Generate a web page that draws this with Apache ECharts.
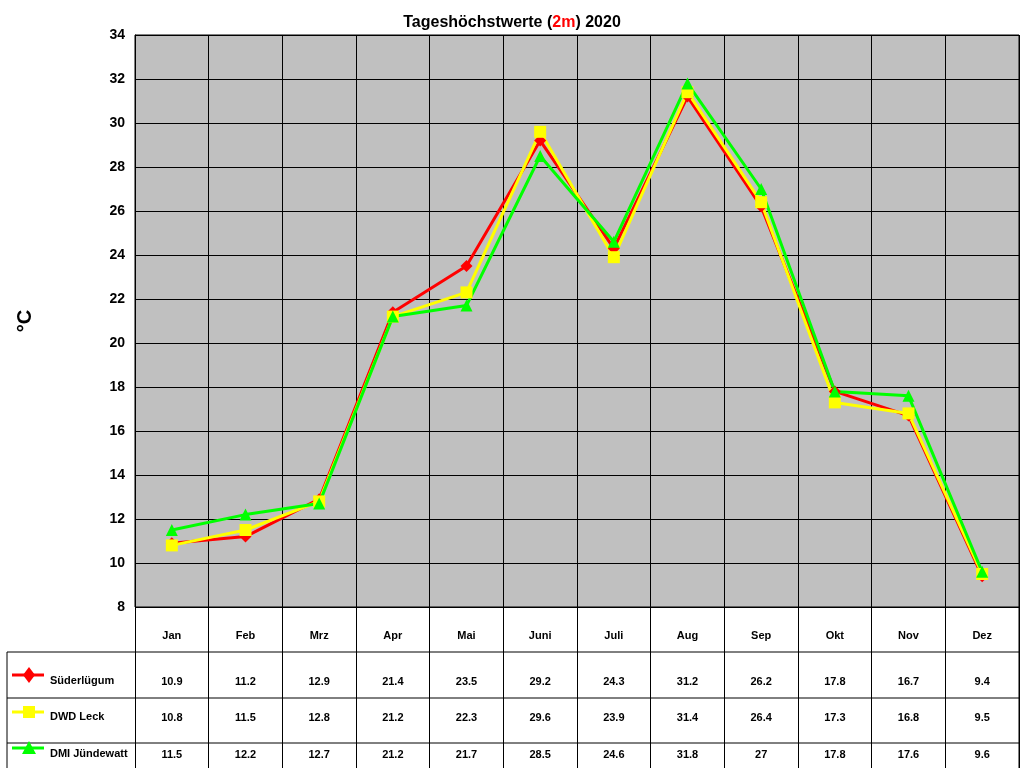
<!DOCTYPE html>
<html><head><meta charset="utf-8">
<script src="https://cdn.jsdelivr.net/npm/echarts@6/dist/echarts.min.js"></script>
<style>html,body{margin:0;padding:0;background:#fff}#c{width:1024px;height:768px}</style>
</head><body><div id="c"></div>
<script>
const months=['Jan','Feb','Mrz','Apr','Mai','Juni','Juli','Aug','Sep','Okt','Nov','Dez'];
const suederluegum=[10.9,11.2,12.9,21.4,23.5,29.2,24.3,31.2,26.2,17.8,16.7,9.4];
const dwdLeck=[10.8,11.5,12.8,21.2,22.3,29.6,23.9,31.4,26.4,17.3,16.8,9.5];
const dmiJuendewatt=[11.5,12.2,12.7,21.2,21.7,28.5,24.6,31.8,27,17.8,17.6,9.6];
const names=['Süderlügum','DWD Leck','DMI Jündewatt'];
const colors=['#ff0000','#ffff00','#00ff00'];
const symbols=['diamond','rect','triangle'];
const seriesData=[suederluegum,dwdLeck,dmiJuendewatt];
const L=135,R=1019,T=35,B=607;
const rowY=[682,718,755];
const font={fontFamily:'Arial, Liberation Sans',fontWeight:'bold',fontSize:11,color:'#000'};
const chart=echarts.init(document.getElementById('c'));
const xAxes=[{type:'category',data:months,gridIndex:0,position:'bottom',offset:0,
  axisLine:{show:false},axisTick:{show:true,length:161,lineStyle:{color:'#000'}},
  axisLabel:{show:false},
  splitLine:{show:true,lineStyle:{color:'#000',width:1}}},
  {type:'category',data:months,gridIndex:0,position:'bottom',offset:29,
  axisLine:{show:false},axisTick:{show:false},
  axisLabel:Object.assign({margin:0,verticalAlign:'middle'},font)}];
seriesData.forEach((d,i)=>{
  xAxes.push({type:'category',data:d.map(String),gridIndex:0,position:'bottom',offset:rowY[i]-B,
    axisLine:{show:false},axisTick:{show:false},
    axisLabel:Object.assign({margin:0,verticalAlign:'middle'},font)});
});
const graphic=[];
[652,698,743].forEach(y=>graphic.push({type:'line',shape:{x1:7,y1:y,x2:R,y2:y},style:{stroke:'#000',lineWidth:1}}));
graphic.push({type:'line',shape:{x1:7,y1:652,x2:7,y2:768},style:{stroke:'#000'}});
graphic.push({type:'line',shape:{x1:R,y1:B,x2:R,y2:768},style:{stroke:'#000'}});
const legY=[675,712,748];
names.forEach((n,i)=>{
  const y=legY[i];
  graphic.push({type:'line',shape:{x1:12,y1:y,x2:44,y2:y},style:{stroke:colors[i],lineWidth:3}});
  graphic.push({type:'text',left:50,top:rowY[i]-7,style:{text:n,font:'bold 11px Arial',fill:'#000'}});
});
graphic.push({type:'polygon',shape:{points:[[29,667],[35,675],[29,683],[23,675]]},style:{fill:'#ff0000'}});
graphic.push({type:'rect',shape:{x:23,y:706,width:12,height:12},style:{fill:'#ffff00'}});
graphic.push({type:'polygon',shape:{points:[[29,741],[36,754],[22,754]]},style:{fill:'#00ff00'}});
chart.setOption({
  animation:false,
  title:{text:'{a|Tageshöchstwerte (}{b|2m}{a|) 2020}',left:'center',top:10,
    textStyle:{rich:{a:{fontFamily:'Arial',fontWeight:'bold',fontSize:16,color:'#000'},
      b:{fontFamily:'Arial',fontWeight:'bold',fontSize:16,color:'#ff0000',textDecoration:'underline'}}}},
  grid:{left:L,right:1024-R,top:T,bottom:768-B,show:true,backgroundColor:'#c0c0c0',borderColor:'#000',borderWidth:1},
  xAxis:xAxes,
  yAxis:{type:'value',min:8,max:34,interval:2,name:'°C',nameLocation:'middle',nameGap:100,
    nameTextStyle:{fontFamily:'Arial',fontWeight:'bold',fontSize:20,color:'#000'},
    axisLine:{show:true,lineStyle:{color:'#000'}},axisTick:{show:false},
    axisLabel:{fontFamily:'Arial',fontWeight:'bold',fontSize:14,color:'#000',margin:10},
    splitLine:{lineStyle:{color:'#000',width:1}}},
  series:seriesData.map((d,i)=>({type:'line',name:names[i],data:d,xAxisIndex:0,
    symbol:symbols[i],symbolSize:12,lineStyle:{color:colors[i],width:3},itemStyle:{color:colors[i]}})),
  graphic:graphic
});
</script></body></html>
